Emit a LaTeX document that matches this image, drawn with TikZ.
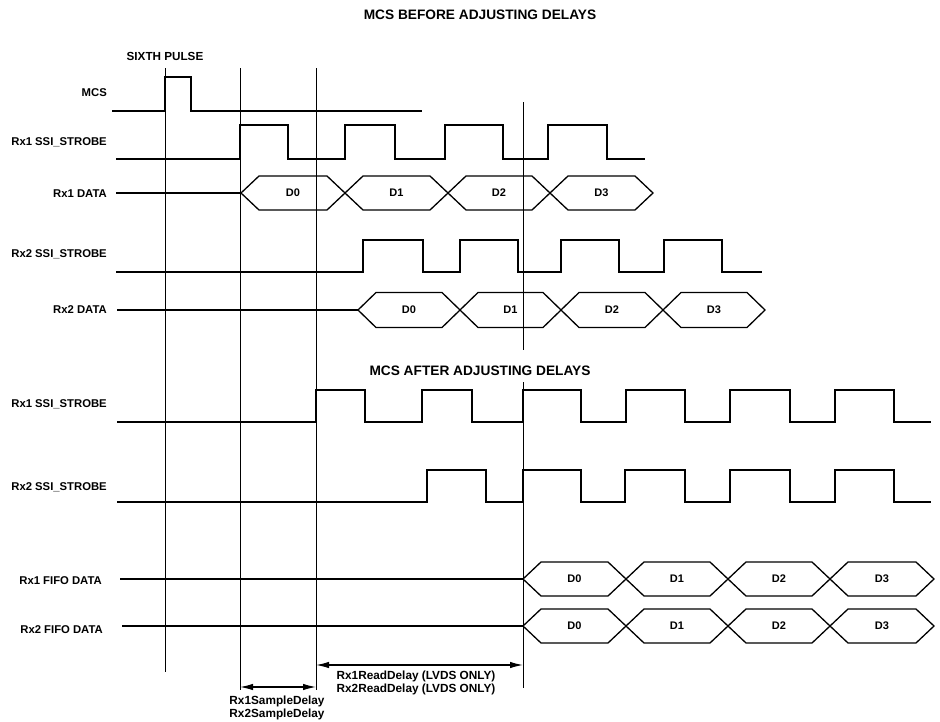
\documentclass[tikz,border=0pt]{standalone}
\usepackage{fontspec}
\setmainfont{Liberation Sans}
\usetikzlibrary{arrows.meta}
\tikzset{
  sig/.style={line width=1.7pt, line join=miter},
  hex/.style={line width=1.3pt, line join=miter},
  vline/.style={line width=0.9pt},
  dim/.style={line width=1.2pt, {Latex[length=13pt,width=6.5pt]}-{Latex[length=13pt,width=6.5pt]}},
  lab/.style={anchor=east, inner sep=0pt, font=\bfseries\fontsize{11.3}{13}\selectfont},
  dlab/.style={inner sep=0pt, font=\bfseries\fontsize{11}{13}\selectfont},
  ttl/.style={inner sep=0pt, font=\bfseries\fontsize{13.7}{16}\selectfont},
  note/.style={inner sep=0pt, align=center, font=\bfseries\fontsize{11.8}{13}\selectfont},
}
\newcommand\hexbox[6]{%
  \draw[hex] (#2,#4) -- ({#2+18},{#4-#5}) -- ({#3-18},{#4-#5}) -- (#3,#4) -- ({#3-18},{#4+#5}) -- ({#2+18},{#4+#5}) -- cycle;
  \node[dlab] (#1) at ({(#2+#3)/2},#4) {#6};}
\begin{document}
\begin{tikzpicture}[x=1pt,y=-1pt]
\useasboundingbox (0,0) rectangle (940,721);
% titles
\node[ttl] (t1) at (480,15) {MCS BEFORE ADJUSTING DELAYS};
\node[ttl] (t2) at (480,371) {MCS AFTER ADJUSTING DELAYS};
\node[dlab, font=\bfseries\fontsize{11.7}{13}\selectfont] (sixth) at (165,56) {SIXTH PULSE};
% labels
\node[lab] (lmcs) at (107,93) {MCS};
\node[lab] (lr1s) at (107,142) {Rx1 SSI\_STROBE};
\node[lab] (lr1d) at (107,194) {Rx1 DATA};
\node[lab] (lr2s) at (107,254) {Rx2 SSI\_STROBE};
\node[lab] (lr2d) at (107,310) {Rx2 DATA};
\node[lab] (lr1sa) at (107,404) {Rx1 SSI\_STROBE};
\node[lab] (lr2sa) at (107,487) {Rx2 SSI\_STROBE};
\node[lab] (lf1) at (102,581) {Rx1 FIFO DATA};
\node[lab] (lf2) at (103,630) {Rx2 FIFO DATA};
% vertical reference lines
\coordinate (v1t) at (165,68); \coordinate (v1b) at (165,672);
\coordinate (v2t) at (240,68); \coordinate (v2b) at (240,690);
\coordinate (v3t) at (316,68); \coordinate (v3b) at (316,690);
\coordinate (v4t) at (523,102); \coordinate (v4m) at (523,350);
\coordinate (v4n) at (523,382); \coordinate (v4b) at (523,688);
\draw[vline] (v1t) -- (v1b);
\draw[vline] (v2t) -- (v2b);
\draw[vline] (v3t) -- (v3b);
\draw[vline] (v4t) -- (v4m);
\draw[vline] (v4n) -- (v4b);
% MCS
\draw[sig] (112,111) -| (165,77) -| (191,111) -- (422,111);
% Rx1 SSI_STROBE before
\draw[sig] (116,159) -| (240,125) -| (288,159) -| (345,125) -| (395,159) -| (445,125) -| (503,159) -| (548,125) -| (607,159) -- (645,159);
% Rx1 DATA
\draw[sig] (116,193) -- (241,193);
\hexbox{a0}{241}{345}{193}{17}{D0}
\hexbox{a1}{345}{448}{193}{17}{D1}
\hexbox{a2}{448}{550}{193}{17}{D2}
\hexbox{a3}{550}{653}{193}{17}{D3}
% Rx2 SSI_STROBE before
\draw[sig] (116,272) -| (363,240) -| (423,272) -| (460,240) -| (518,272) -| (561,240) -| (619,272) -| (664,240) -| (722,272) -- (762,272);
% Rx2 DATA
\draw[sig] (117,310) -- (358,310);
\hexbox{b0}{358}{460}{310}{17.5}{D0}
\hexbox{b1}{460}{561}{310}{17.5}{D1}
\hexbox{b2}{561}{663}{310}{17.5}{D2}
\hexbox{b3}{663}{765}{310}{17.5}{D3}
% Rx1 SSI_STROBE after
\draw[sig] (117,422) -| (316,390) -| (365,422) -| (422,390) -| (472,422) -| (523,390) -| (581,422) -| (626,390) -| (685,422) -| (730,390) -| (790,422) -| (835,390) -| (894,422) -- (931,422);
% Rx2 SSI_STROBE after
\draw[sig] (117,502) -| (427,470) -| (486,502) -| (523,470) -| (581,502) -| (625,470) -| (685,502) -| (730,470) -| (790,502) -| (835,470) -| (894,502) -- (931,502);
% FIFO data
\draw[sig] (120,579) -- (523,579);
\hexbox{c0}{523}{626}{579}{17}{D0}
\hexbox{c1}{626}{728}{579}{17}{D1}
\hexbox{c2}{728}{830}{579}{17}{D2}
\hexbox{c3}{830}{934}{579}{17}{D3}
\draw[sig] (122,626) -- (523,626);
\hexbox{e0}{523}{626}{626}{17}{D0}
\hexbox{e1}{626}{728}{626}{17}{D1}
\hexbox{e2}{728}{830}{626}{17}{D2}
\hexbox{e3}{830}{934}{626}{17}{D3}
% delay arrows
\coordinate (rdL) at (316,665); \coordinate (rdR) at (523,665);
\draw[dim] (rdL) -- (rdR);
\node[note] (rdtxt) at (416,682.5) {Rx1ReadDelay (LVDS ONLY)\\Rx2ReadDelay (LVDS ONLY)};
\coordinate (sdL) at (240,687); \coordinate (sdR) at (316,687);
\draw[dim] (sdL) -- (sdR);
\node[note] (sdtxt) at (277,708) {Rx1SampleDelay\\Rx2SampleDelay};
\end{tikzpicture}
\end{document}
